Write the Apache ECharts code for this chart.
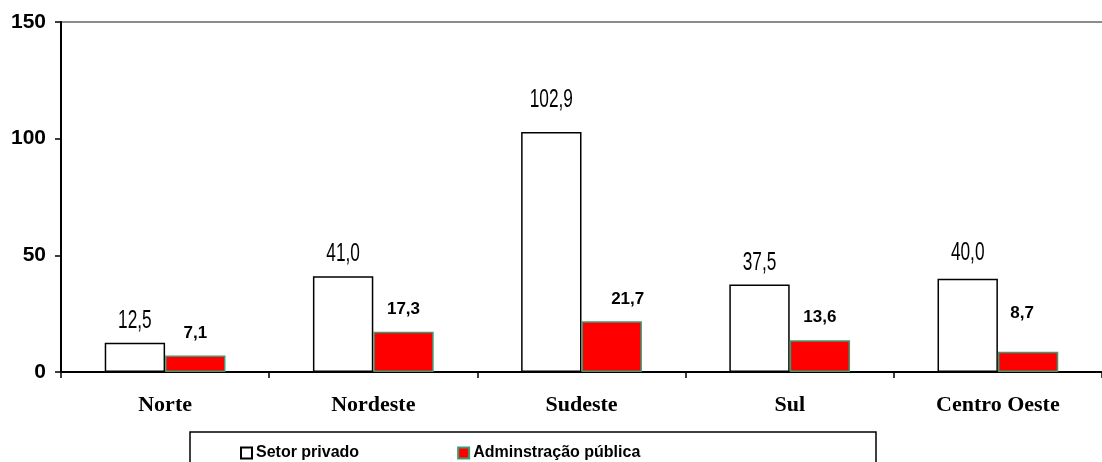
<!DOCTYPE html>
<html>
<head>
<meta charset="utf-8">
<style>
  html, body { margin: 0; padding: 0; background: #fff; }
  #chart { width: 1102px; height: 462px; }
</style>
<script src="https://cdn.jsdelivr.net/npm/echarts@6/dist/echarts.min.js"></script>
</head>
<body>
<div id="chart"></div>
<script>
// Regiões e valores por setor
const categories = ['Norte', 'Nordeste', 'Sudeste', 'Sul', 'Centro Oeste'];
const setorPrivado = [12.5, 41.0, 102.9, 37.5, 40.0];
const adminPublica = [7.1, 17.3, 21.7, 13.6, 8.7];
const yAxisMin = 0;
const yAxisMax = 150;
const yAxisStep = 50;

const fmt = v => v.toFixed(1).replace('.', ',');

const CATEGORY_GAP = 0.42;

// gap (px) between a white bar and its condensed value label
const privadoGapDefault = 14;
const privadoGap = { 2: 24, 4: 18 };
// a couple of red-bar labels sit off their default spot
const publicaLabelTweak = { 2: { offset: [16, 0] }, 4: { distance: 30, offset: [-6, 0] } };

function withLabelTweaks(values, tweaks) {
  return values.map((v, i) => tweaks[i] ? { value: v, label: tweaks[i] } : v);
}

const chart = echarts.init(document.getElementById('chart'), null, { renderer: 'canvas' });

chart.setOption({
  animation: false,
  backgroundColor: '#ffffff',
  grid: { left: 61, top: 22, width: 1050, height: 350, containLabel: false },
  graphic: [{
    type: 'rect',
    shape: { x: 190, y: 432, width: 686, height: 40 },
    style: { fill: '#ffffff', stroke: '#000000', lineWidth: 1.5 },
    z: 0
  }],
  legend: {
    left: 235,
    top: 440,
    icon: 'rect',
    itemWidth: 11,
    itemHeight: 11,
    itemGap: 98,
    z: 5,
    textStyle: {
      fontFamily: 'Liberation Sans, Arial, sans-serif',
      fontWeight: 'bold',
      fontSize: 16,
      color: '#000',
      padding: [0, 0, 0, -1]
    },
    data: ['Setor privado', 'Adminstração pública']
  },
  xAxis: {
    type: 'category',
    data: categories,
    boundaryGap: true,
    axisLine: { lineStyle: { color: '#000', width: 2 } },
    axisTick: { show: true, length: 6, inside: false, lineStyle: { color: '#000', width: 1.5 } },
    axisLabel: {
      margin: 22,
      fontFamily: 'Liberation Serif, Times New Roman, serif',
      fontWeight: 'bold',
      fontSize: 22,
      color: '#000'
    },
    splitLine: { show: false }
  },
  yAxis: {
    type: 'value',
    min: yAxisMin,
    max: yAxisMax,
    interval: yAxisStep,
    axisLine: { show: true, lineStyle: { color: '#000', width: 2 } },
    axisTick: { show: true, length: 6, lineStyle: { color: '#000', width: 1.5 } },
    axisLabel: {
      margin: 15,
      fontFamily: 'Liberation Sans, Arial, sans-serif',
      fontWeight: 'bold',
      fontSize: 21,
      color: '#000'
    },
    splitLine: {
      show: true,
      lineStyle: { color: ['transparent', 'transparent', 'transparent', '#8c8c8c'], width: 2 }
    }
  },
  series: [
    {
      name: 'Setor privado',
      type: 'bar',
      barGap: '0%',
      barCategoryGap: (CATEGORY_GAP * 100) + '%',
      data: setorPrivado,
      itemStyle: { color: '#ffffff', borderColor: '#000000', borderWidth: 1.5 },
      label: { show: false }
    },
    {
      name: 'Adminstração pública',
      type: 'bar',
      data: withLabelTweaks(adminPublica, publicaLabelTweak),
      itemStyle: { color: '#ff0000', borderColor: '#3f9a72', borderWidth: 1.5 },
      label: {
        show: true,
        position: 'top',
        distance: 14,
        formatter: p => fmt(p.value),
        fontFamily: 'Liberation Sans, Arial, sans-serif',
        fontWeight: 'bold',
        fontSize: 17,
        color: '#000'
      }
    },
    {
      // condensed value labels above the white bars
      name: 'rotulosPrivado',
      type: 'custom',
      silent: true,
      z: 10,
      data: setorPrivado.map((v, i) => [i, v]),
      renderItem(params, api) {
        const i = api.value(0);
        const v = api.value(1);
        const top = api.coord([i, v]);
        const band = api.size([1, 0])[0];
        const barW = band * (1 - CATEGORY_GAP) / 2;
        const gap = privadoGap[i] !== undefined ? privadoGap[i] : privadoGapDefault;
        return {
          type: 'text',
          x: top[0] - barW / 2,
          y: top[1] - gap + 5,
          scaleX: 0.72,
          scaleY: 1.1,
          style: {
            text: fmt(v),
            font: '24px "Liberation Sans", Arial, sans-serif',
            fill: '#000',
            align: 'center',
            verticalAlign: 'bottom'
          }
        };
      }
    }
  ]
});
</script>
</body>
</html>
